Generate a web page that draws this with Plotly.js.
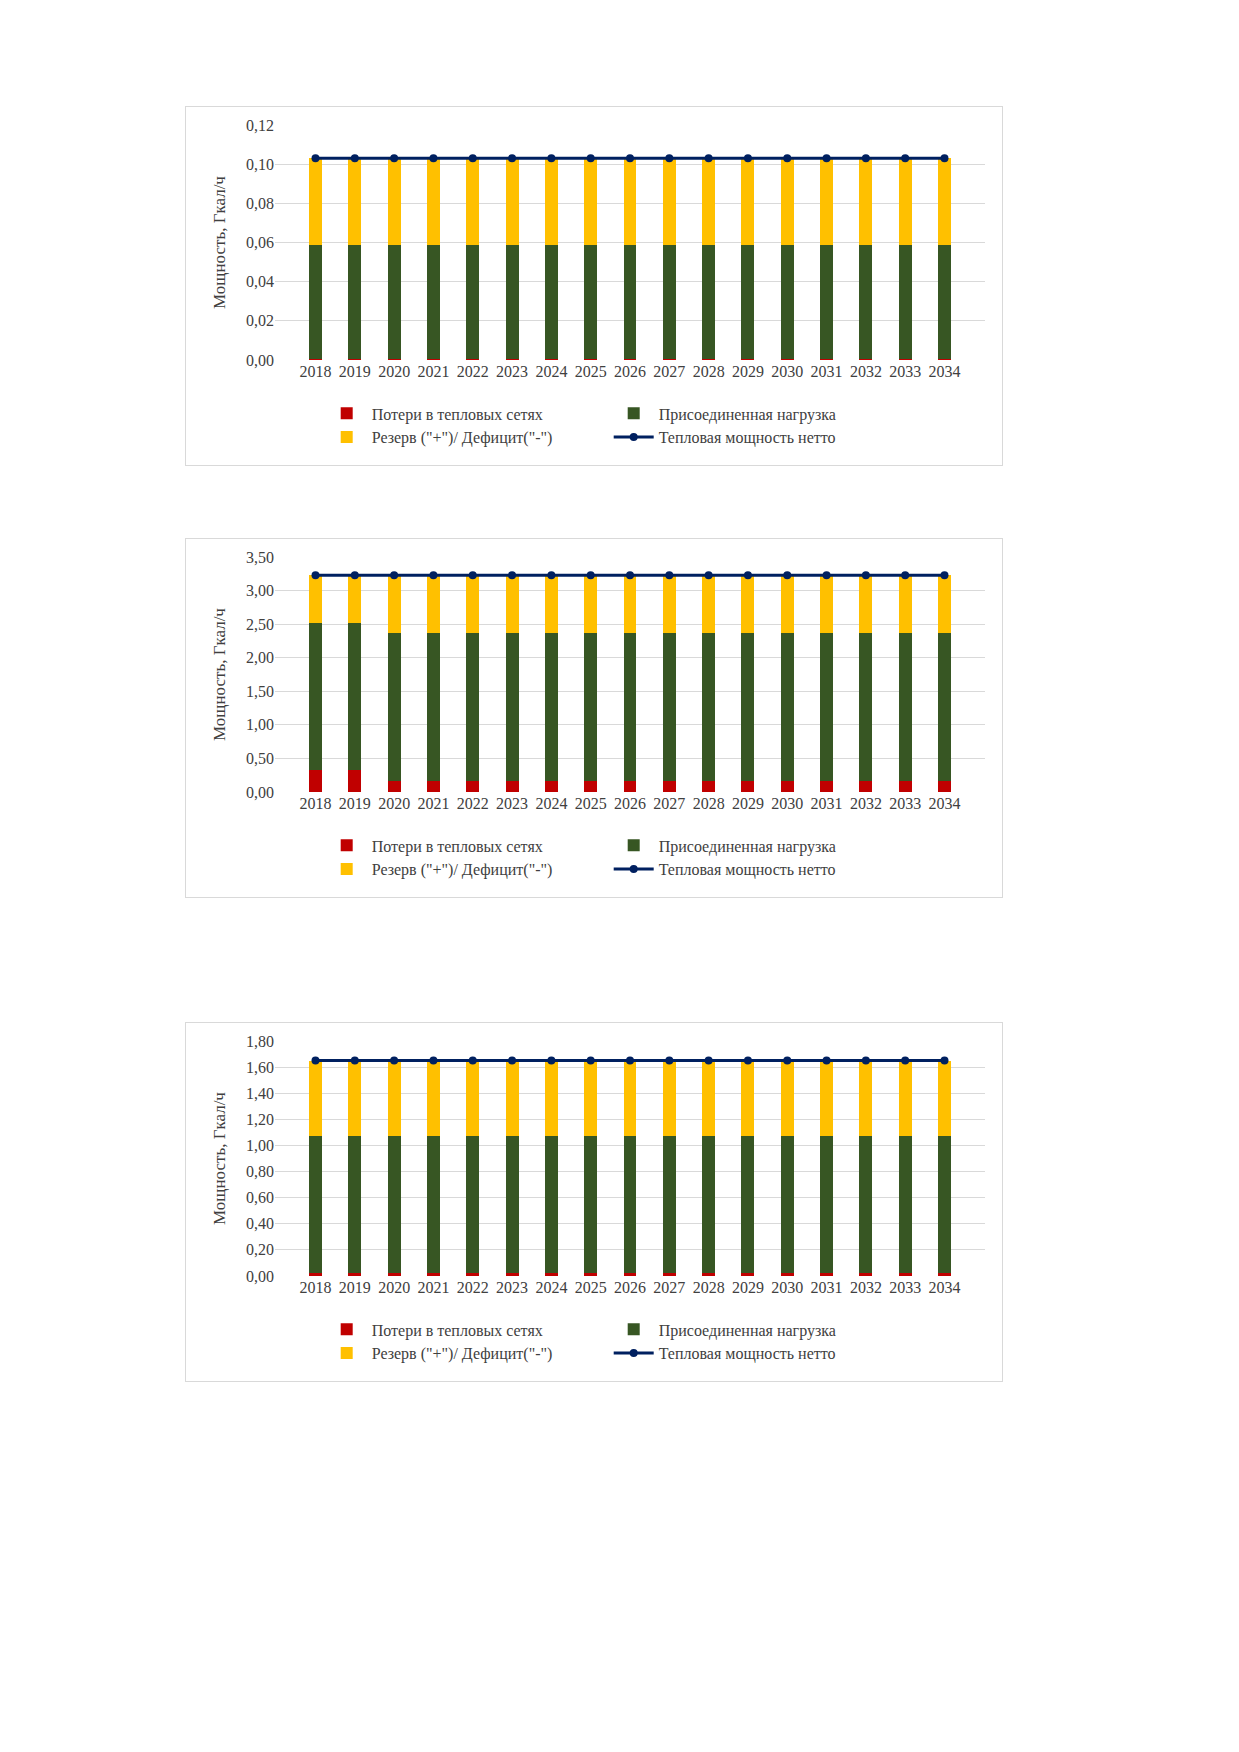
<!DOCTYPE html>
<html><head><meta charset="utf-8">
<script src="https://cdn.plot.ly/plotly-3.0.1.min.js"></script>
<style>
body{margin:0;background:#fff;width:1239px;height:1752px;position:relative}
.box{position:absolute;left:185px;width:818px;height:360px;border:1px solid #d9d9d9;box-sizing:border-box}
</style></head><body>
<div id="c1" class="box" style="top:106px"></div>
<div id="c2" class="box" style="top:538px"></div>
<div id="c3" class="box" style="top:1022px"></div>
<script>
// ── Данные ──────────────────────────────────────────────
const years = ['2018','2019','2020','2021','2022','2023','2024','2025','2026','2027','2028','2029','2030','2031','2032','2033','2034'];

const loss1    = [0.0005,0.0005,0.0005,0.0005,0.0005,0.0005,0.0005,0.0005,0.0005,0.0005,0.0005,0.0005,0.0005,0.0005,0.0005,0.0005,0.0005];
const load1    = [0.058,0.058,0.058,0.058,0.058,0.058,0.058,0.058,0.058,0.058,0.058,0.058,0.058,0.058,0.058,0.058,0.058];
const reserve1 = [0.0445,0.0445,0.0445,0.0445,0.0445,0.0445,0.0445,0.0445,0.0445,0.0445,0.0445,0.0445,0.0445,0.0445,0.0445,0.0445,0.0445];
const net1     = [0.103,0.103,0.103,0.103,0.103,0.103,0.103,0.103,0.103,0.103,0.103,0.103,0.103,0.103,0.103,0.103,0.103];

const loss2    = [0.33,0.33,0.17,0.17,0.17,0.17,0.17,0.17,0.17,0.17,0.17,0.17,0.17,0.17,0.17,0.17,0.17];
const load2    = [2.19,2.19,2.20,2.20,2.20,2.20,2.20,2.20,2.20,2.20,2.20,2.20,2.20,2.20,2.20,2.20,2.20];
const reserve2 = [0.71,0.71,0.86,0.86,0.86,0.86,0.86,0.86,0.86,0.86,0.86,0.86,0.86,0.86,0.86,0.86,0.86];
const net2     = [3.23,3.23,3.23,3.23,3.23,3.23,3.23,3.23,3.23,3.23,3.23,3.23,3.23,3.23,3.23,3.23,3.23];

const loss3    = [0.02,0.02,0.02,0.02,0.02,0.02,0.02,0.02,0.02,0.02,0.02,0.02,0.02,0.02,0.02,0.02,0.02];
const load3    = [1.05,1.05,1.05,1.05,1.05,1.05,1.05,1.05,1.05,1.05,1.05,1.05,1.05,1.05,1.05,1.05,1.05];
const reserve3 = [0.58,0.58,0.58,0.58,0.58,0.58,0.58,0.58,0.58,0.58,0.58,0.58,0.58,0.58,0.58,0.58,0.58];
const net3     = [1.65,1.65,1.65,1.65,1.65,1.65,1.65,1.65,1.65,1.65,1.65,1.65,1.65,1.65,1.65,1.65,1.65];

const names = ['Потери в тепловых сетях','Присоединенная нагрузка','Резерв ("+")/ Дефицит("-")','Тепловая мощность нетто'];
const C = { red:'#c00000', green:'#375623', yellow:'#ffc000', navy:'#002060', grid:'#d9d9d9', text:'#404040' };

function bar(y, color, name) {
  return { type:'bar', x:years, y, name, marker:{color}, width:0.33 };
}

function build(id, loss, load, reserve, net, range, dtick) {
  Plotly.newPlot(id, [
    bar(loss, C.red, names[0]),
    bar(load, C.green, names[1]),
    bar(reserve, C.yellow, names[2]),
    { type:'scatter', mode:'lines+markers', x:years, y:net, name:names[3],
      line:{color:C.navy, width:3}, marker:{color:C.navy, size:8} },
  ], {
    width:816, height:358, barmode:'stack',
    paper_bgcolor:'#fff', plot_bgcolor:'#fff',
    margin:{l:89, r:17, t:18, b:104},
    font:{family:'Liberation Serif, serif', size:16, color:C.text},
    xaxis:{type:'category', dtick:1, tickangle:0, showgrid:false, zeroline:false, showline:false,
           ticks:'', tickfont:{size:16}},
    yaxis:{range, dtick, tickformat:'.2f', gridcolor:C.grid, zeroline:false,
           showline:false, ticks:'', tickfont:{size:16},
           title:{text:'Мощность, Гкал/ч', font:{size:17}, standoff:16}},
    separators:', ',
    showlegend:true,
    legend:{orientation:'h', x:0.47, xanchor:'center', y:-0.15, yanchor:'top',
            entrywidth:232, traceorder:'normal', font:{size:16}, itemwidth:40},
    hovermode:false,
  }, {displayModeBar:false, staticPlot:true});
}

build('c1', loss1, load1, reserve1, net1, [0,0.12], 0.02);
build('c2', loss2, load2, reserve2, net2, [0,3.5], 0.5);
build('c3', loss3, load3, reserve3, net3, [0,1.8], 0.2);
</script>
</body></html>
